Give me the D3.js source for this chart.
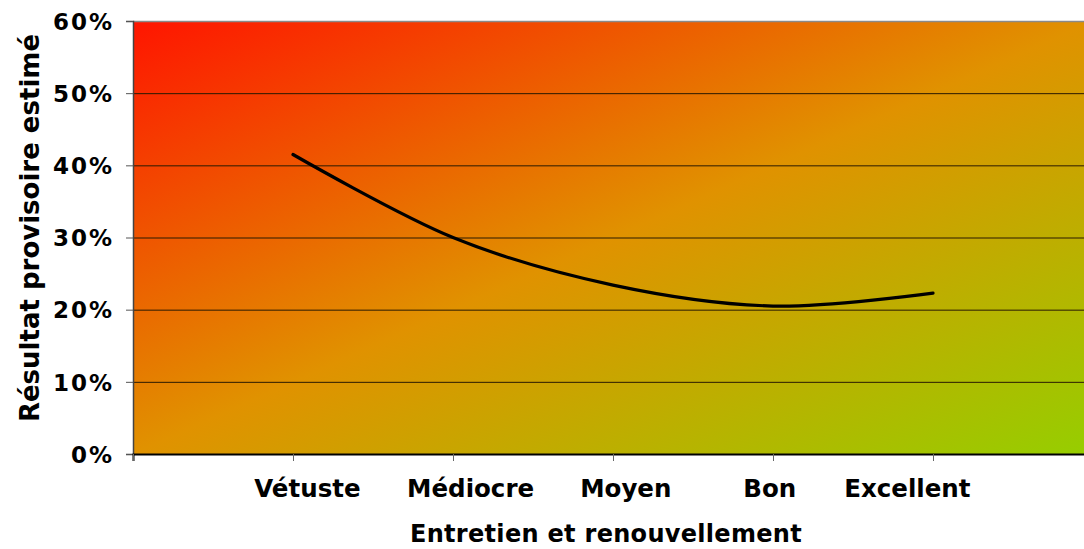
<!DOCTYPE html>
<meta charset="utf-8">
<style>
    body { margin: 0; background: #fff; }
    text { font-family: "DejaVu Sans", Verdana, sans-serif; font-weight: bold; fill: #000; }
</style>
<body>
<div id="chart"></div>

<script src="https://cdn.jsdelivr.net/npm/d3@7"></script>
<script>
    // data
    var categories = ["Vétuste", "Médiocre", "Moyen", "Bon", "Excellent"];
    var xValues = [1, 2, 3, 4, 5];
    var yValues = [0.415, 0.300, 0.234, 0.205, 0.223];
    // where each category label sits, in x-axis units (hand placed in the original)
    var labelAt = [1.09, 2.11, 3.08, 3.98, 4.84];
    var yTicks = [0, 0.1, 0.2, 0.3, 0.4, 0.5, 0.6];
    var xTicks = [0, 1, 2, 3, 4, 5, 6];

    var width = 1084,
        height = 549;

    var svg = d3.select("#chart").append("svg")
        .attr("width", width)
        .attr("height", height);

    var x = d3.scaleLinear().domain([0, 6]).range([133, 1093]);
    var y = d3.scaleLinear().domain([0, 0.6]).range([454, 21]);

    var defs = svg.append("defs");
    var grad = defs.append("linearGradient")
        .attr("id", "bg")
        .attr("x1", 0).attr("y1", 0)
        .attr("x2", 1).attr("y2", 1);
    grad.append("stop").attr("offset", "0%").attr("stop-color", "#ff1500");
    grad.append("stop").attr("offset", "50%").attr("stop-color", "#e09200");
    grad.append("stop").attr("offset", "100%").attr("stop-color", "#96ce00");

    svg.append("rect")
        .attr("x", x(0))
        .attr("y", y(0.6))
        .attr("width", x(6) - x(0))
        .attr("height", y(0) - y(0.6))
        .attr("fill", "url(#bg)");

    // gridlines
    svg.append("g")
        .selectAll("line")
        .data(yTicks.filter(function (d) { return d > 0; }))
        .enter().append("line")
        .attr("x1", x(0))
        .attr("x2", x(6))
        .attr("y1", function (d) { return y(d) + 0.5; })
        .attr("y2", function (d) { return y(d) + 0.5; })
        .attr("stroke", function (d) { return d == 0.6 ? "#8a8a8a" : "#2a1a00"; })
        .attr("stroke-width", function (d) { return d == 0.6 ? 1.5 : 1; });

    // y axis
    var yAxis = svg.append("g")
        .attr("transform", "translate(" + x(0) + ",0)")
        .call(d3.axisLeft(y).tickValues(yTicks).tickFormat(d3.format(".0%")).tickSize(7).tickPadding(12));
    yAxis.select(".domain").attr("stroke", "#444").attr("stroke-width", 1.5);
    yAxis.selectAll(".tick line").attr("stroke", "#555");
    yAxis.selectAll("text")
        .style("font-size", "23px")
        .style("letter-spacing", "2px")
        .attr("font-family", null)
        .attr("dy", "0.36em");

    // x axis
    var xAxis = svg.append("g")
        .attr("transform", "translate(0," + y(0) + ")")
        .call(d3.axisBottom(x).tickValues(xTicks).tickFormat("").tickSize(7));
    xAxis.select(".domain").attr("stroke", "#000").attr("stroke-width", 2);
    xAxis.selectAll(".tick line").attr("stroke", "#666");

    svg.append("g")
        .selectAll("text")
        .data(categories)
        .enter().append("text")
        .attr("x", function (d, i) { return x(labelAt[i]); })
        .attr("y", 497)
        .attr("text-anchor", "middle")
        .style("font-size", "24.5px")
        .text(function (d) { return d; });

    // axis titles
    svg.append("text")
        .attr("x", 606)
        .attr("y", 542)
        .attr("text-anchor", "middle")
        .style("font-size", "24px")
        .style("letter-spacing", "0.3px")
        .text("Entretien et renouvellement");

    svg.append("text")
        .attr("transform", "translate(39,228) rotate(-90)")
        .attr("text-anchor", "middle")
        .style("font-size", "26px")
        .text("Résultat provisoire estimé");

    // the curve
    var line = d3.line()
        .x(function (d, i) { return x(xValues[i]); })
        .y(function (d) { return y(d); })
        .curve(d3.curveCardinal.tension(0));

    svg.append("path")
        .datum(yValues)
        .attr("d", line)
        .attr("fill", "none")
        .attr("stroke", "#000")
        .attr("stroke-width", 3.2)
        .attr("stroke-linecap", "round");
</script>
</body>
